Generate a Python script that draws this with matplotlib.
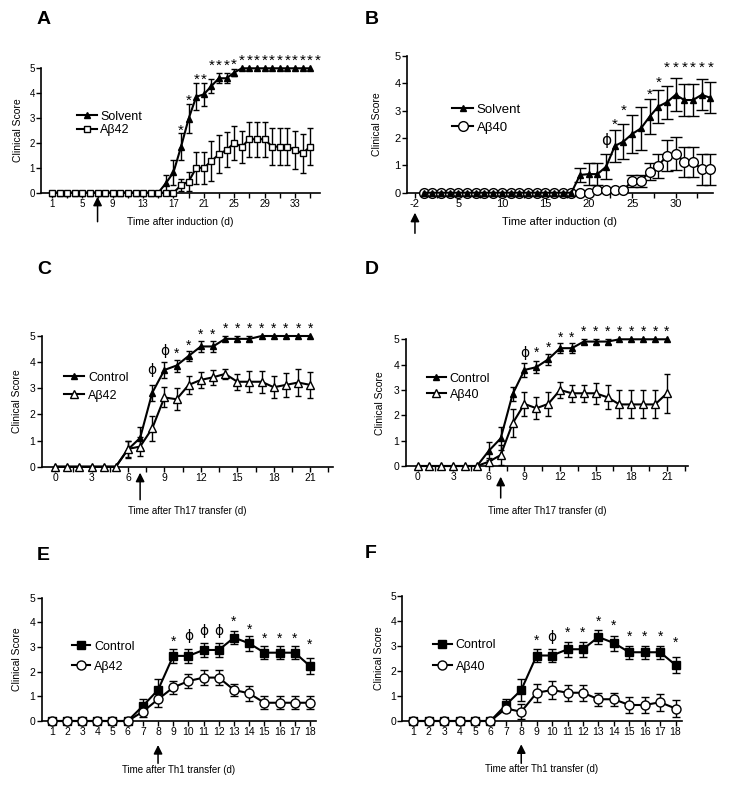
import numpy as np
import matplotlib
matplotlib.use("Agg")
import matplotlib.pyplot as plt
from matplotlib.lines import Line2D
from matplotlib.ticker import FixedLocator

plt.rcParams['font.family'] = ['Liberation Sans', 'DejaVu Sans']

# ---- data ----
# A: EAE induction, Abeta42 vs solvent
a_days = list(range(1, 36))
a_solvent = [0, 0, 0, 0, 0, 0, 0, 0, 0, 0, 0, 0, 0, 0, 0,
             0.38, 0.82, 1.85, 2.98, 3.86, 3.95, 4.29, 4.6, 4.6, 4.83,
             5, 5, 5, 5, 5, 5, 5, 5, 5, 5]
a_solvent_err = [0, 0, 0, 0, 0, 0, 0, 0, 0, 0, 0, 0, 0, 0, 0,
                 0.35, 0.5, 0.55, 0.6, 0.55, 0.45, 0.3, 0.2, 0.2, 0.15,
                 0, 0, 0, 0, 0, 0, 0, 0, 0, 0]
a_ab42 = [0, 0, 0, 0, 0, 0, 0, 0, 0, 0, 0, 0, 0, 0, 0, 0, 0,
          0.3, 0.45, 1.0, 1.0, 1.27, 1.55, 1.72, 2.0, 1.85, 2.15, 2.15, 2.15,
          1.85, 1.85, 1.85, 1.72, 1.58, 1.85]
a_ab42_err = [0, 0, 0, 0, 0, 0, 0, 0, 0, 0, 0, 0, 0, 0, 0, 0, 0,
              0.25, 0.4, 0.65, 0.65, 0.8, 0.75, 0.7, 0.7, 0.65, 0.7, 0.7, 0.7,
              0.75, 0.75, 0.75, 0.75, 0.78, 0.75]
a_marks = [(18, 2.68, '*'), (19, 3.86, '*'), (20, 4.73, '*'), (21, 4.73, '*'),
           (22, 5.27, '*'), (23, 5.27, '*'), (24, 5.27, '*'), (25, 5.33, '*'),
           (26, 5.47, '*'), (27, 5.47, '*'), (28, 5.47, '*'), (29, 5.47, '*'),
           (30, 5.47, '*'), (31, 5.47, '*'), (32, 5.47, '*'), (33, 5.47, '*'),
           (34, 5.47, '*'), (35, 5.47, '*'), (36, 5.47, '*')]

# B: EAE induction, Abeta40 vs solvent
b_days = list(range(1, 35))
b_solvent = [0, 0, 0, 0, 0, 0, 0, 0, 0, 0, 0, 0, 0, 0, 0, 0, 0, 0,
             0.65, 0.68, 0.68, 0.95, 1.71, 1.87, 2.15, 2.35, 2.78, 3.15,
             3.31, 3.58, 3.39, 3.39, 3.58, 3.47]
b_solvent_err = [0, 0, 0, 0, 0, 0, 0, 0, 0, 0, 0, 0, 0, 0, 0, 0, 0, 0,
                 0.25, 0.4, 0.4, 0.45, 0.58, 0.63, 0.7, 0.78, 0.64, 0.6,
                 0.6, 0.6, 0.6, 0.6, 0.57, 0.57]
b_ab40 = [0, 0, 0, 0, 0, 0, 0, 0, 0, 0, 0, 0, 0, 0, 0, 0, 0, 0, 0, 0,
          0.1, 0.1, 0.1, 0.1, 0.43, 0.43, 0.77, 0.98, 1.36, 1.42,
          1.13, 1.13, 0.86, 0.86]
b_ab40_err = [0, 0, 0, 0, 0, 0, 0, 0, 0, 0, 0, 0, 0, 0, 0, 0, 0, 0, 0, 0,
              0, 0, 0, 0, 0.22, 0.22, 0.32, 0.45, 0.58, 0.6,
              0.55, 0.55, 0.57, 0.57]
b_marks = [(22, 1.92, 'ϕ'), (23, 2.66, '*'), (24, 3.15, '*'), (27, 3.76, '*'),
           (28, 4.18, '*'), (29, 4.73, '*'), (30, 4.73, '*'), (31, 4.73, '*'),
           (32, 4.73, '*'), (33, 4.73, '*'), (34, 4.73, '*')]

# C: Th17 transfer, Abeta42
c_days = list(range(0, 22))
c_control = [0, 0, 0, 0, 0, 0, 0.66, 1.1, 2.83, 3.7, 3.87, 4.24, 4.6, 4.6,
             4.89, 4.89, 4.89, 5.0, 5.0, 5.0, 5.0, 5.0]
c_control_err = [0, 0, 0, 0, 0, 0, 0.33, 0.4, 0.3, 0.3, 0.23, 0.2, 0.2, 0.2,
                 0.1, 0.1, 0.1, 0, 0, 0, 0, 0]
c_ab42 = [0, 0, 0, 0, 0, 0, 0.68, 0.77, 1.47, 2.65, 2.58, 3.13, 3.32, 3.42,
          3.55, 3.25, 3.25, 3.25, 3.04, 3.13, 3.22, 3.13]
c_ab42_err = [0, 0, 0, 0, 0, 0, 0.32, 0.35, 0.47, 0.38, 0.42, 0.35, 0.3, 0.28,
              0.2, 0.3, 0.4, 0.43, 0.43, 0.45, 0.52, 0.5]
c_marks = [(8, 3.7, 'ϕ'), (9, 4.44, 'ϕ'), (10, 4.44, '*'), (11, 4.78, '*'),
           (12, 5.17, '*'), (13, 5.17, '*'), (14, 5.42, '*'), (15, 5.42, '*'),
           (16, 5.42, '*'), (17, 5.42, '*'), (18, 5.42, '*'), (19, 5.42, '*'),
           (20, 5.42, '*'), (21, 5.42, '*')]

# D: Th17 transfer, Abeta40
d_days = list(range(0, 22))
d_control = [0, 0, 0, 0, 0, 0, 0.6, 1.09, 2.83, 3.79, 3.9, 4.21, 4.65, 4.65,
             4.91, 4.91, 4.91, 5.0, 5.0, 5.0, 5.0, 5.0]
d_control_err = [0, 0, 0, 0, 0, 0, 0.36, 0.45, 0.28, 0.28, 0.24, 0.22, 0.2, 0.2,
                 0.1, 0.1, 0.1, 0, 0, 0, 0, 0]
d_ab40 = [0, 0, 0, 0, 0, 0, 0.17, 0.43, 1.68, 2.45, 2.28, 2.45, 3.0, 2.87,
          2.87, 2.87, 2.71, 2.43, 2.43, 2.43, 2.43, 2.87]
d_ab40_err = [0, 0, 0, 0, 0, 0, 0.15, 0.4, 0.55, 0.48, 0.43, 0.48, 0.33, 0.33,
              0.33, 0.42, 0.48, 0.55, 0.55, 0.55, 0.55, 0.78]
d_marks = [(9, 4.45, 'ϕ'), (10, 4.6, '*'), (11, 4.82, '*'), (12, 5.21, '*'),
           (13, 5.21, '*'), (14, 5.43, '*'), (15, 5.43, '*'), (16, 5.43, '*'),
           (17, 5.43, '*'), (18, 5.43, '*'), (19, 5.43, '*'), (20, 5.43, '*'),
           (21, 5.43, '*')]

# E: Th1 transfer, Abeta42
e_days = list(range(1, 19))
e_control = [0, 0, 0, 0, 0, 0, 0.61, 1.26, 2.64, 2.64, 2.88, 2.88, 3.38, 3.15,
             2.77, 2.77, 2.77, 2.23]
e_control_err = [0, 0, 0, 0, 0, 0, 0.3, 0.43, 0.27, 0.27, 0.3, 0.3, 0.27, 0.3,
                 0.27, 0.27, 0.27, 0.33]
e_ab42 = [0, 0, 0, 0, 0, 0, 0.38, 0.88, 1.36, 1.62, 1.76, 1.76, 1.26, 1.12,
          0.74, 0.74, 0.74, 0.74]
e_ab42_err = [0, 0, 0, 0, 0, 0, 0.2, 0.3, 0.27, 0.28, 0.3, 0.3, 0.25, 0.3,
              0.27, 0.27, 0.27, 0.27]
e_marks = [(9, 3.35, '*'), (10, 3.45, 'ϕ'), (11, 3.65, 'ϕ'), (12, 3.65, 'ϕ'),
           (13, 4.16, '*'), (14, 3.85, '*'), (15, 3.49, '*'), (16, 3.49, '*'),
           (17, 3.49, '*'), (18, 3.24, '*')]

# F: Th1 transfer, Abeta40
f_days = list(range(1, 19))
f_control = [0, 0, 0, 0, 0, 0, 0.64, 1.24, 2.62, 2.62, 2.87, 2.87, 3.36, 3.12,
             2.75, 2.75, 2.75, 2.24]
f_control_err = [0, 0, 0, 0, 0, 0, 0.25, 0.45, 0.27, 0.27, 0.3, 0.3, 0.27, 0.3,
                 0.27, 0.27, 0.27, 0.32]
f_ab40 = [0, 0, 0, 0, 0, 0, 0.5, 0.37, 1.13, 1.24, 1.13, 1.13, 0.87, 0.87,
          0.64, 0.64, 0.75, 0.5]
f_ab40_err = [0, 0, 0, 0, 0, 0, 0.15, 0.3, 0.35, 0.37, 0.31, 0.31, 0.26, 0.25,
              0.33, 0.33, 0.33, 0.33]
f_marks = [(9, 3.37, '*'), (10, 3.37, 'ϕ'), (11, 3.67, '*'), (12, 3.67, '*'),
           (13, 4.13, '*'), (14, 3.97, '*'), (15, 3.5, '*'), (16, 3.5, '*'),
           (17, 3.5, '*'), (18, 3.27, '*')]

W, H = 729, 788
fig = plt.figure(figsize=(W / 100, H / 100), dpi=100)


def make_ax(left, top, right, bottom):
    # pixel box -> figure fraction
    return fig.add_axes([left / W, 1 - bottom / H, (right - left) / W, (bottom - top) / H])


def series(ax, x, y, err, marker, face, ms, cap, z):
    x = np.array(x)
    y = np.array(y)
    err = np.array(err)
    m = err > 0
    ax.errorbar(x[m], y[m], yerr=err[m], fmt='none', ecolor='black',
                elinewidth=1.0, capsize=cap, capthick=1.0, zorder=z - 1, clip_on=False)
    ax.plot(x, y, color='black', lw=1.5, marker=marker, mfc=face, mec='black',
            mew=1.0, ms=ms, zorder=z, clip_on=False)


def style(ax, xlim, major, labels, minor, tick_fs):
    ax.set_xlim(*xlim)
    ax.set_ylim(0, 5)
    for s in ['top', 'right']:
        ax.spines[s].set_visible(False)
    for s in ['left', 'bottom']:
        ax.spines[s].set_linewidth(1.2)
    ax.xaxis.set_major_locator(FixedLocator(major))
    ax.set_xticklabels(labels)
    if minor is not None:
        ax.xaxis.set_minor_locator(FixedLocator(minor))
    ax.set_yticks([0, 1, 2, 3, 4, 5])
    ax.tick_params(axis='both', which='both', direction='out', width=1.0,
                   labelsize=tick_fs, pad=1, colors='black')
    ax.tick_params(axis='both', which='major', length=3.5)
    ax.tick_params(axis='x', which='minor', length=3.5)
    ax.patch.set_visible(False)


def labels(ax, xlabel, xlab_px, ylab_x_px, fs):
    bb = ax.get_position()
    hpx = bb.height * H
    wpx = bb.width * W
    ax.set_xlabel(xlabel, fontsize=fs, va='center')
    ax.xaxis.set_label_coords(0.5, -xlab_px / hpx)
    ax.set_ylabel('Clinical Score', fontsize=7.5, va='center')
    ax.yaxis.set_label_coords((ylab_x_px - bb.x0 * W) / wpx, 0.5)


def arrow(ax, day, head_px, tail_px):
    hpx = ax.get_position().height * H
    ax.annotate('', xy=(day, -head_px / hpx), xytext=(day, -tail_px / hpx),
                xycoords=ax.get_xaxis_transform(), textcoords=ax.get_xaxis_transform(),
                arrowprops=dict(arrowstyle='-|>', color='black', lw=1.1,
                                mutation_scale=13, shrinkA=0, shrinkB=0),
                annotation_clip=False)


def marks(ax, items, fs):
    for d, yv, s in items:
        off = -0.55 * fs if s == '*' else -0.3 * fs
        ax.annotate(s, xy=(d, yv), xytext=(0, off), textcoords='offset points',
                    ha='center', va='baseline', fontsize=fs, annotation_clip=False,
                    family=['DejaVu Sans'] if s == 'ϕ' else None)


def legend(ax, handles, names, x_px, y_px, fs, spacing, hl):
    ax.legend(handles, names, loc='center left',
              bbox_to_anchor=(x_px / W, 1 - y_px / H), bbox_transform=fig.transFigure,
              frameon=False, fontsize=fs, labelspacing=spacing, handlelength=hl,
              handletextpad=0.3, borderpad=0, borderaxespad=0, numpoints=1)


def h(marker, face, ms):
    return Line2D([], [], color='black', lw=1.5, marker=marker, mfc=face,
                  mec='black', mew=1.0, ms=ms)


# ---- A ----
axA = make_ax(41, 68.3, 320, 192.7)
series(axA, a_days, a_solvent, a_solvent_err, '^', 'black', 4.5, 2.3, 5)
series(axA, a_days, a_ab42, a_ab42_err, 's', 'white', 5, 2.3, 6)
style(axA, (-0.45, 36.3), [1, 5, 9, 13, 17, 21, 25, 29, 33],
      ['1', '5', '9', '13', '17', '21', '25', '29', '33'],
      [3, 7, 11, 15, 19, 23, 27, 31, 35], 7)
labels(axA, 'Time after induction (d)', 29, 18, 7.5)
arrow(axA, 7, 4, 29)
marks(axA, a_marks, 11)
legend(axA, [h('^', 'black', 4.5), h('s', 'white', 5)], ['Solvent', 'Aβ42'],
       76.7, 123.3, 9, 0.1, 1.6)

# ---- B ----
axB = make_ax(406.7, 56, 713, 192.7)
series(axB, b_days, b_ab40, b_ab40_err, 'o', 'white', 7, 4.5, 5)
series(axB, b_days, b_solvent, b_solvent_err, '^', 'black', 5, 4.5, 6)
style(axB, (-0.95, 34.3), [0, 5, 10, 15, 20, 25, 30],
      ['-2', '5', '10', '15', '20', '25', '30'],
      [2.5, 7.5, 12.5, 17.5, 22.5, 27.5, 32.5], 8)
labels(axB, 'Time after induction (d)', 29, 376.7, 8)
arrow(axB, 0, 20, 40.6)
marks(axB, b_marks, 11)
legend(axB, [h('^', 'black', 5), h('o', 'white', 7)], ['Solvent', 'Aβ40'],
       452.3, 118.8, 9.5, 0.43, 1.55)

# ---- C ----
axC = make_ax(41.7, 336, 333.3, 466.7)
series(axC, c_days, c_control, c_control_err, '^', 'black', 5, 2.5, 5)
series(axC, c_days, c_ab42, c_ab42_err, '^', 'white', 5.5, 2.5, 6)
style(axC, (-1.1, 22.9), [0, 3, 6, 9, 12, 15, 18, 21],
      ['0', '3', '6', '9', '12', '15', '18', '21'],
      [1.5, 4.5, 7.5, 10.5, 13.5, 16.5, 19.5, 22.5], 7.5)
labels(axC, 'Time after Th17 transfer (d)', 44, 16.7, 7)
arrow(axC, 7, 6, 33)
marks(axC, c_marks, 10)
legend(axC, [h('^', 'black', 5), h('^', 'white', 5.5)], ['Control', 'Aβ42'],
       64.3, 386.7, 9, 0.48, 1.6)

# ---- D ----
axD = make_ax(405.7, 339.3, 688.3, 466)
series(axD, d_days, d_control, d_control_err, '^', 'black', 5, 2.5, 5)
series(axD, d_days, d_ab40, d_ab40_err, '^', 'white', 5.5, 2.5, 6)
style(axD, (-1.0, 22.8), [0, 3, 6, 9, 12, 15, 18, 21],
      ['0', '3', '6', '9', '12', '15', '18', '21'],
      [1.5, 4.5, 7.5, 10.5, 13.5, 16.5, 19.5, 22.5], 7.5)
labels(axD, 'Time after Th17 transfer (d)', 45, 380, 7)
arrow(axD, 7, 10.7, 32)
marks(axD, d_marks, 10)
legend(axD, [h('^', 'black', 5), h('^', 'white', 5.5)], ['Control', 'Aβ40'],
       426.7, 386.7, 9, 0.33, 1.55)

# ---- E ----
axE = make_ax(41.7, 597.7, 316, 721)
series(axE, e_days, e_control, e_control_err, 's', 'black', 5.5, 3, 5)
series(axE, e_days, e_ab42, e_ab42_err, 'o', 'white', 6.5, 3, 6)
style(axE, (0.34, 18.4), e_days, [str(d) for d in e_days], None, 7.5)
labels(axE, 'Time after Th1 transfer (d)', 49, 17.3, 7)
arrow(axE, 8, 24, 42.3)
marks(axE, e_marks, 10)
legend(axE, [h('s', 'black', 5.5), h('o', 'white', 6.5)], ['Control', 'Aβ42'],
       71.7, 656.7, 9, 0.64, 1.5)

# ---- F ----
axF = make_ax(402.3, 596, 681.7, 721)
series(axF, f_days, f_control, f_control_err, 's', 'black', 5.5, 3, 5)
series(axF, f_days, f_ab40, f_ab40_err, 'o', 'white', 6.5, 3, 6)
style(axF, (0.29, 18.4), f_days, [str(d) for d in f_days], None, 7.5)
labels(axF, 'Time after Th1 transfer (d)', 48.3, 379, 7)
arrow(axF, 8, 23.3, 42.3)
marks(axF, f_marks, 10)
legend(axF, [h('s', 'black', 5.5), h('o', 'white', 6.5)], ['Control', 'Aβ40'],
       432.7, 655.8, 9, 0.78, 1.55)

# panel letters
for letter, xp, yp in [('A', 37, 20), ('B', 365, 20), ('C', 37, 270),
                       ('D', 365, 270), ('E', 37, 555), ('F', 365, 553)]:
    fig.text(xp / W, 1 - yp / H, letter, fontsize=14, fontweight='bold',
             ha='left', va='center')

fig.savefig('out.png', dpi=100)
